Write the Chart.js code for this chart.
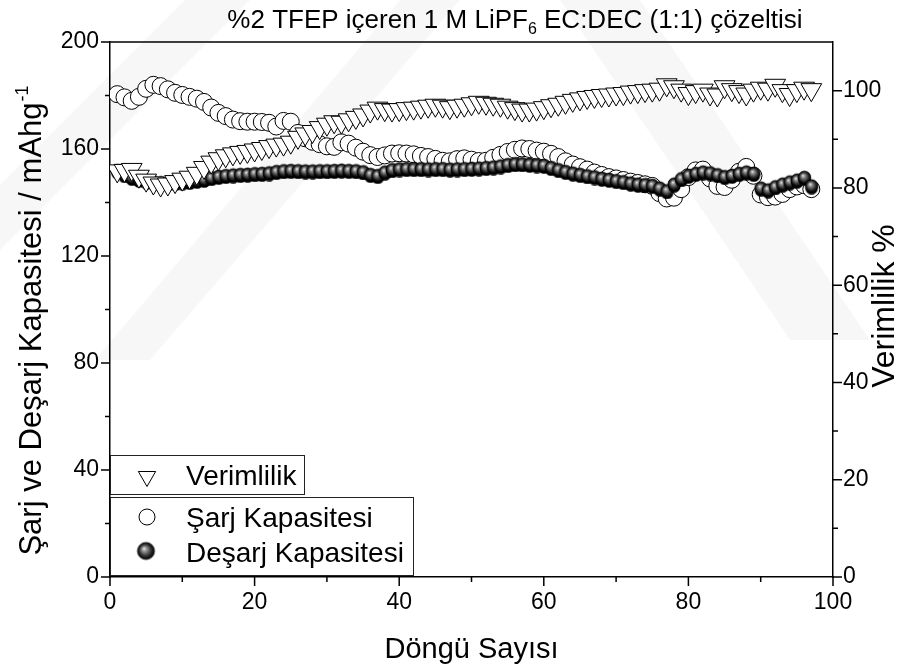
<!DOCTYPE html>
<html lang="tr">
<head>
<meta charset="utf-8">
<title>Şarj ve Deşarj Kapasitesi</title>
<script src="https://cdn.jsdelivr.net/npm/chart.js@4.4.1/dist/chart.umd.min.js"></script>
<style>
  html, body { margin: 0; padding: 0; background: #fff; }
  #wrap { width: 910px; height: 668px; position: relative; }
</style>
</head>
<body>
<div id="wrap"><canvas id="capChart"></canvas></div>
<script>
// döngü numaraları
const cycles = [
  1, 2, 3, 4, 5, 6, 7, 8, 9, 10, 11, 12, 13, 14, 15, 16, 17, 18, 19, 20,
  21, 22, 23, 24, 25, 26, 27, 28, 29, 30, 31, 32, 33, 34, 35, 36, 37, 38, 39, 40,
  41, 42, 43, 44, 45, 46, 47, 48, 49, 50, 51, 52, 53, 54, 55, 56, 57, 58, 59, 60,
  61, 62, 63, 64, 65, 66, 67, 68, 69, 70, 71, 72, 73, 74, 75, 76, 77, 78, 79, 80,
  81, 82, 83, 84, 85, 86, 87, 88, 89, 90, 91, 92, 93, 94, 95, 96, 97
];

// şarj kapasitesi (mAh/g)
const chargeCap = [
  180.5, 179.3, 178.0, 179.5, 182.5, 184.0, 183.5, 182.3, 181.0, 180.2,
  179.5, 178.8, 177.6, 175.5, 173.5, 172.3, 171.0, 170.4, 170.2, 170.2,
  170.1, 169.8, 168.4, 170.5, 170.2, 166.0, 164.0, 162.7, 161.8, 161.0,
  160.8, 162.5, 162.0, 160.5, 159.0, 157.7, 157.0, 157.6, 158.3, 158.4,
  158.3, 158.0, 157.4, 157.0, 156.3, 155.6, 155.4, 156.2, 156.5, 156.0,
  155.5, 155.6, 156.7, 157.8, 158.9, 159.7, 160.2, 160.0, 159.4, 159.0,
  158.2, 157.0, 155.4, 154.2, 153.2, 152.3, 151.2, 150.3, 149.5, 149.0,
  148.4, 147.8, 147.3, 146.8, 146.2, 143.5, 141.5, 141.8, 145.0, 149.5,
  152.0, 152.3, 149.0, 146.2, 145.8, 148.5, 151.5, 153.3, 150.0, 143.0,
  142.0, 142.2, 143.2, 145.0, 146.0, 146.5, 145.0
];

// deşarj kapasitesi (mAh/g)
const dischargeCap = [
  152.0, 150.5, 149.5, 148.8, 148.2, 147.8, 147.5, 147.5, 147.6, 147.8,
  148.0, 148.4, 148.8, 149.4, 149.9, 150.2, 150.4, 150.6, 150.7, 150.9,
  151.0, 151.2, 151.7, 152.0, 152.1, 152.0, 151.9, 151.9, 152.0, 152.0,
  152.1, 152.2, 152.1, 152.0, 151.6, 150.6, 150.2, 151.5, 152.4, 152.7,
  152.8, 152.8, 152.8, 152.7, 152.8, 152.8, 152.6, 152.7, 152.8, 152.9,
  153.0, 153.2, 153.4, 153.8, 154.3, 154.6, 154.6, 154.4, 154.2, 154.0,
  153.2, 152.4, 151.7, 151.1, 150.6, 150.1, 149.7, 149.2, 148.8, 148.3,
  147.9, 147.4, 147.0, 146.8, 146.5, 145.5, 144.5, 147.0, 149.0, 150.3,
  151.0, 151.5, 151.2, 150.5, 149.8, 150.3, 151.0, 151.5, 151.0, 145.5,
  144.8, 146.0, 147.0, 147.8, 148.5, 149.5, 146.3
];

// verimlilik (%)
const efficiency = [
  83.5, 83.6, 83.8, 82.4, 81.6, 81.0, 80.6, 80.8, 81.3, 81.8,
  82.2, 83.0, 84.2, 85.3, 86.0, 86.6, 87.0, 87.3, 87.5, 87.8,
  88.1, 88.5, 88.8, 89.0, 89.4, 90.4, 91.1, 91.6, 92.4, 93.1,
  93.6, 93.5, 94.0, 94.5, 95.0, 95.8, 96.4, 96.1, 96.0, 96.1,
  96.3, 96.4, 96.6, 96.8, 97.0, 96.8, 96.5, 96.8, 97.0, 97.3,
  97.6, 97.4, 97.2, 97.0, 96.6, 96.3, 96.0, 96.0, 96.2, 96.5,
  96.9, 97.2, 97.6, 98.0, 98.3, 98.6, 98.8, 99.0, 99.1, 99.3,
  99.4, 99.7, 99.8, 100.0, 100.1, 100.3, 101.2, 100.8, 100.1, 99.4,
  99.8, 100.1, 99.3, 99.1, 100.8, 100.2, 99.8, 99.3, 100.1, 100.5,
  100.3, 101.1, 100.0, 99.2, 100.0, 100.5, 100.2
];

// eksen etiketleri
const xTickLabels = [0, 20, 40, 60, 80, 100];
const leftTickLabels = [0, 40, 80, 120, 160, 200];
const rightTickLabels = [0, 20, 40, 60, 80, 100];

const FONT = "'Liberation Sans', Arial, sans-serif";

// gölgeli küre noktası
function makeSphere(r, shadow) {
  const pad = 3;
  const c = document.createElement('canvas');
  c.width = c.height = 2 * (r + pad);
  const g = c.getContext('2d');
  const cx = r + pad, cy = r + pad;
  if (shadow) {
    g.fillStyle = '#000';
    g.beginPath();
    g.arc(cx, cy + 2.2, r, 0, Math.PI * 2);
    g.fill();
  }
  const grad = g.createRadialGradient(cx - r * 0.25, cy - r * 0.3, 0, cx, cy, r);
  grad.addColorStop(0, '#f4f4f4');
  grad.addColorStop(0.25, '#9a9a9a');
  grad.addColorStop(0.7, '#2e2e2e');
  grad.addColorStop(1, '#000000');
  g.fillStyle = grad;
  g.beginPath();
  g.arc(cx, cy, r, 0, Math.PI * 2);
  g.fill();
  g.strokeStyle = '#000';
  g.lineWidth = 0.8;
  g.stroke();
  return c;
}

const sphere = makeSphere(6.3, true);
const legendSphere = makeSphere(8.5, false);

const toPoints = (ys) => cycles.map((c, i) => ({ x: c, y: ys[i] }));

// arka plandaki soluk gri şeritler
const watermark = {
  id: 'watermark',
  beforeDraw(chart) {
    const ctx = chart.ctx;
    ctx.save();
    ctx.fillStyle = 'rgba(0,0,0,0.03)';
    const bands = [
      [[0, 250], [0, 185], [185, 0], [250, 0]],
      [[150, 360], [95, 360], [400, 0], [460, 0]],
      [[560, 0], [640, 0], [870, 340], [790, 340]]
    ];
    bands.forEach(b => {
      ctx.beginPath();
      ctx.moveTo(b[0][0], b[0][1]);
      for (let i = 1; i < b.length; i++) ctx.lineTo(b[i][0], b[i][1]);
      ctx.closePath();
      ctx.fill();
    });
    ctx.restore();
  }
};

// çerçeve, tik çizgileri, başlıklar ve lejant
const decorations = {
  id: 'decorations',
  afterDraw(chart) {
    const ctx = chart.ctx;
    const { left, right, top, bottom } = chart.chartArea;
    const sx = chart.scales.x, sy = chart.scales.y, sy2 = chart.scales.y2;
    ctx.save();
    ctx.strokeStyle = '#000';
    ctx.lineWidth = 1.5;

    ctx.beginPath();
    ctx.moveTo(left, top);
    ctx.lineTo(right, top);
    ctx.stroke();

    ctx.beginPath();
    sx.ticks.forEach(t => {
      const px = sx.getPixelForValue(t.value);
      const len = xTickLabels.includes(t.value) ? 9 : 5;
      ctx.moveTo(px, bottom);
      ctx.lineTo(px, bottom + len);
    });
    sy.ticks.forEach(t => {
      const py = sy.getPixelForValue(t.value);
      const len = leftTickLabels.includes(t.value) ? 9 : 5;
      ctx.moveTo(left - len, py);
      ctx.lineTo(left, py);
    });
    sy2.ticks.forEach(t => {
      if (t.value > 100) return;
      const py = sy2.getPixelForValue(t.value);
      const len = rightTickLabels.includes(t.value) ? 9 : 5;
      ctx.moveTo(right, py);
      ctx.lineTo(right + len, py);
    });
    ctx.stroke();

    ctx.fillStyle = '#000';
    ctx.textBaseline = 'alphabetic';

    // başlık (LiPF6 alt indisli)
    const big = '26px ' + FONT, small = '16px ' + FONT;
    const p1 = '%2 TFEP içeren 1 M LiPF', p2 = '6', p3 = ' EC:DEC (1:1) çözeltisi';
    ctx.font = big;
    const w1 = ctx.measureText(p1).width, w3 = ctx.measureText(p3).width;
    ctx.font = small;
    const w2 = ctx.measureText(p2).width;
    const tx = 515 - (w1 + w2 + w3) / 2;
    ctx.textAlign = 'left';
    ctx.font = big;
    ctx.fillText(p1, tx, 28);
    ctx.font = small;
    ctx.fillText(p2, tx + w1, 34);
    ctx.font = big;
    ctx.fillText(p3, tx + w1 + w2, 28);

    // x ekseni başlığı
    ctx.font = '29px ' + FONT;
    ctx.textAlign = 'center';
    ctx.fillText('Döngü Sayısı', (left + right) / 2, 658);

    // sol eksen başlığı (dikey, üst simge ile)
    const yl = 'Şarj ve Deşarj Kapasitesi / mAhg', ysup = '-1';
    ctx.save();
    ctx.translate(41, 321);
    ctx.rotate(-Math.PI / 2);
    ctx.font = '31px ' + FONT;
    const wl = ctx.measureText(yl).width;
    ctx.font = '18px ' + FONT;
    const ws = ctx.measureText(ysup).width;
    const sx0 = -(wl + ws) / 2;
    ctx.textAlign = 'left';
    ctx.font = '31px ' + FONT;
    ctx.fillText(yl, sx0, 0);
    ctx.font = '18px ' + FONT;
    ctx.fillText(ysup, sx0 + wl + 1, -13);
    ctx.restore();

    // sağ eksen başlığı
    ctx.save();
    ctx.translate(894, 306);
    ctx.rotate(-Math.PI / 2);
    ctx.font = '32px ' + FONT;
    ctx.textAlign = 'center';
    ctx.fillText('Verimlilik %', 0, 0);
    ctx.restore();

    // lejant kutuları
    ctx.lineWidth = 1;
    ctx.strokeStyle = '#222';
    ctx.fillStyle = '#fff';
    ctx.fillRect(110.5, 455.5, 194, 39);
    ctx.strokeRect(110.5, 455.5, 194, 39);
    ctx.fillRect(110.5, 497.5, 303, 78);
    ctx.strokeRect(110.5, 497.5, 303, 78);

    // üçgen
    ctx.strokeStyle = '#000';
    ctx.lineWidth = 1;
    const r = 10, cx = 147, cy = 476.5;
    ctx.beginPath();
    ctx.moveTo(cx, cy + r);
    ctx.lineTo(cx - r * Math.sin(Math.PI / 3), cy - r / 2);
    ctx.lineTo(cx + r * Math.sin(Math.PI / 3), cy - r / 2);
    ctx.closePath();
    ctx.fill();
    ctx.stroke();

    // daire
    ctx.beginPath();
    ctx.arc(147, 517, 8, 0, Math.PI * 2);
    ctx.fill();
    ctx.stroke();

    // küre
    ctx.drawImage(legendSphere, 146 - legendSphere.width / 2, 551 - legendSphere.height / 2);

    ctx.fillStyle = '#000';
    ctx.font = '28px ' + FONT;
    ctx.textAlign = 'left';
    ctx.fillText('Verimlilik', 186, 485);
    ctx.fillText('Şarj Kapasitesi', 186, 527);
    ctx.fillText('Deşarj Kapasitesi', 186, 562);

    ctx.restore();
  }
};

const tickFont = { family: FONT, size: 23 };

new Chart(document.getElementById('capChart'), {
  type: 'scatter',
  data: {
    datasets: [
      {
        label: 'Verimlilik',
        data: toPoints(efficiency),
        yAxisID: 'y2',
        order: 1,
        pointStyle: 'triangle',
        rotation: 180,
        radius: 12,
        backgroundColor: '#fff',
        borderColor: '#000',
        borderWidth: 1
      },
      {
        label: 'Deşarj Kapasitesi',
        data: toPoints(dischargeCap),
        yAxisID: 'y',
        order: 2,
        pointStyle: sphere,
        radius: 6.3
      },
      {
        label: 'Şarj Kapasitesi',
        data: toPoints(chargeCap),
        yAxisID: 'y',
        order: 3,
        pointStyle: 'circle',
        radius: 8.5,
        backgroundColor: '#fff',
        borderColor: '#000',
        borderWidth: 1
      }
    ]
  },
  options: {
    responsive: true,
    maintainAspectRatio: false,
    animation: false,
    events: [],
    layout: { padding: { top: 42, left: 0, right: 0, bottom: 0 } },
    plugins: {
      legend: { display: false },
      tooltip: { enabled: false },
      title: { display: false }
    },
    scales: {
      x: {
        type: 'linear',
        min: 0,
        max: 100,
        afterFit: s => { s.height = 91; },
        grid: { display: false, drawTicks: false },
        border: { display: true, color: '#000', width: 1.5 },
        ticks: {
          stepSize: 10,
          autoSkip: false,
          maxRotation: 0,
          padding: 12,
          color: '#000',
          font: tickFont,
          callback: v => xTickLabels.includes(v) ? String(v) : ''
        }
      },
      y: {
        position: 'left',
        min: 0,
        max: 200,
        afterFit: s => { s.width = 110; },
        grid: { display: false, drawTicks: false },
        border: { display: true, color: '#000', width: 1.5 },
        ticks: {
          stepSize: 20,
          autoSkip: false,
          padding: 11,
          color: '#000',
          font: tickFont,
          callback: v => leftTickLabels.includes(v) ? String(v) : ''
        }
      },
      y2: {
        position: 'right',
        min: 0,
        max: 110,
        afterFit: s => { s.width = 77; },
        grid: { display: false, drawTicks: false },
        border: { display: true, color: '#000', width: 1.5 },
        ticks: {
          stepSize: 10,
          autoSkip: false,
          padding: 10,
          color: '#000',
          font: tickFont,
          callback: v => rightTickLabels.includes(v) ? String(v) : ''
        }
      }
    }
  },
  plugins: [watermark, decorations]
});
</script>
</body>
</html>
